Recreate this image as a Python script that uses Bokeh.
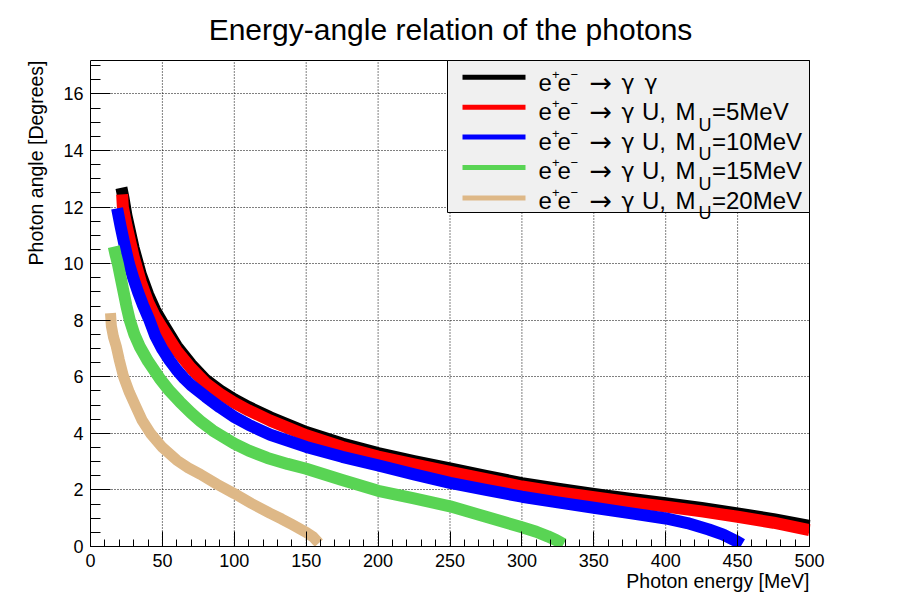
import math
from bokeh.plotting import figure
from bokeh.models import Range1d, SingleIntervalTicker, Label, Title
from bokeh.embed import file_html
from bokeh.resources import INLINE

# ---------------- data ----------------
energy_gg = [21.5, 23.0, 25.0, 30.0, 35.0, 40.0, 45.0, 50.0, 60.0, 70.0, 80.0, 90.0, 100, 110, 125, 150,
             175, 200, 225, 250, 275, 300, 325, 350, 375, 400, 425, 450, 475, 500]
angle_gg = [12.68, 12.3, 11.7, 10.55, 9.62, 8.92, 8.35, 7.92, 7.08, 6.44, 5.9, 5.52, 5.2, 4.93, 4.57, 4.05,
            3.64, 3.30, 3.02, 2.76, 2.50, 2.24, 2.04, 1.86, 1.69, 1.53, 1.36, 1.17, 0.97, 0.73]

energy_u5 = [22.0, 22.5, 25.0, 30.0, 35.0, 40.0, 45.0, 50.0, 60.0, 70.0, 80.0, 90.0, 100, 110, 125, 150,
             175, 200, 225, 250, 275, 300, 325, 350, 375, 400, 425, 450, 475, 500]
angle_u5 = [12.45, 12.0, 11.35, 10.25, 9.35, 8.65, 8.12, 7.72, 6.92, 6.3, 5.78, 5.4, 5.08, 4.81, 4.45, 3.93,
            3.52, 3.18, 2.90, 2.64, 2.38, 2.12, 1.92, 1.74, 1.57, 1.41, 1.24, 1.05, 0.84, 0.58]

energy_u10 = [18.5, 21.0, 23.5, 26.7, 30.0, 33.0, 36.5, 40.6, 45.0, 50.0, 55.0, 60.0, 65.0, 70.0, 80.0, 90.0,
              100, 110, 125, 150, 175, 200, 225, 250, 275, 300, 325, 350, 375, 400, 415, 430, 440, 448, 453]
angle_u10 = [11.95, 11.3, 10.7, 10.0, 9.45, 9.0, 8.53, 8.05, 7.45, 6.97, 6.58, 6.24, 5.95, 5.7, 5.3, 4.92,
             4.58, 4.3, 3.95, 3.52, 3.17, 2.87, 2.55, 2.25, 2.0, 1.76, 1.56, 1.37, 1.18, 0.99, 0.83, 0.6, 0.42, 0.22, 0.07]

energy_u15 = [16.2, 17.5, 19.0, 21.0, 23.0, 25.0, 27.3, 30.5, 34.1, 40.0, 48.0, 55.0, 62.0, 70.0, 76.5, 85.0,
              100, 110, 123, 137, 150, 175, 200, 225, 250, 275, 300, 310, 318, 324, 329]
angle_u15 = [10.6, 10.3, 10.0, 9.5, 9.0, 8.5, 8.0, 7.5, 7.08, 6.55, 5.95, 5.5, 5.12, 4.72, 4.43, 4.1,
             3.64, 3.39, 3.13, 2.92, 2.75, 2.35, 1.97, 1.70, 1.42, 1.05, 0.68, 0.52, 0.36, 0.22, 0.08]

energy_u20 = [13.9, 14.5, 16.0, 17.9, 20.0, 23.0, 27.0, 31.0, 36.0, 42.0, 50.0, 60.0, 68.0, 76.5, 88.0, 100,
              112, 125, 133, 140, 150, 155, 158.8]
angle_u20 = [8.25, 7.8, 7.4, 7.08, 6.6, 6.0, 5.45, 5.0, 4.45, 3.98, 3.5, 3.05, 2.78, 2.55, 2.2, 1.87,
             1.52, 1.17, 0.97, 0.78, 0.5, 0.33, 0.12]

series_colors = ["#000000", "#ff0000", "#0000ff", "#59d454", "#deb887"]
masses = [None, "5", "10", "15", "20"]

title_text = "Energy-angle relation of the photons"
xlabel_text = "Photon energy [MeV]"
ylabel_text = "Photon angle [Degrees]"

x_tick_step = 50
y_tick_step = 2

# ---------------- layout ----------------
XMAX = 500.0
YMAX = 17.18
FONT = "Liberation Sans"
SYM = "DejaVu Sans"

# visual frame in page pixels: left 90, right 809, top 60, bottom 546
FL, FR, FT, FB = 90.0, 809.0, 60.0, 546.0
XSCALE = (FR - FL) / XMAX
YSCALE = (FB - FT) / YMAX
X_END = (810.0 - FL) / XSCALE          # plotting frame reaches page x = 810
Y_END = (FB - 0.0) / YSCALE            # plotting frame reaches the page top


def px2x(px):
    return (px - FL) / XSCALE


def py2y(py):
    return (FB - py) / YSCALE


p = figure(width=892, height=601, output_backend="svg", toolbar_location=None,
           x_range=Range1d(0, X_END), y_range=Range1d(0, Y_END),
           min_border_left=90, min_border_right=892 - 810, min_border_top=0, min_border_bottom=601 - 546)
p.background_fill_color = "white"
p.border_fill_color = "white"
p.outline_line_color = None

p.xaxis.ticker = SingleIntervalTicker(interval=x_tick_step, num_minor_ticks=5)
p.yaxis.ticker = SingleIntervalTicker(interval=y_tick_step, num_minor_ticks=4)
p.xaxis.bounds = (0, XMAX)
p.yaxis.bounds = (0, YMAX)
for ax in (p.xaxis, p.yaxis):
    ax.axis_line_color = "black"
    ax.axis_line_width = 1
    ax.major_tick_line_color = "black"
    ax.minor_tick_line_color = "black"
    ax.major_tick_out = 0
    ax.minor_tick_out = 0
    ax.major_label_text_font = FONT
    ax.major_label_text_font_size = "18px"
    ax.major_label_text_color = "black"
    ax.major_label_standoff = 7
p.xaxis.major_tick_in = 15
p.xaxis.minor_tick_in = 7
p.yaxis.major_tick_in = 20
p.yaxis.minor_tick_in = 10

p.xgrid.visible = False
p.ygrid.bounds = (0, YMAX)
p.ygrid.grid_line_color = "black"
p.ygrid.grid_line_dash = "1 2"
p.ygrid.grid_line_width = 1

# vertical dotted grid lines, only inside the visual frame
grid_x = list(range(x_tick_step, int(XMAX), x_tick_step))
p.segment(x0=grid_x, x1=grid_x, y0=[0] * len(grid_x), y1=[YMAX] * len(grid_x),
          line_color="black", line_dash="1 2", line_width=1)

# ---------------- curves ----------------
curves = [(energy_gg, angle_gg), (energy_u5, angle_u5), (energy_u10, angle_u10),
          (energy_u15, angle_u15), (energy_u20, angle_u20)]
widths = [12, 12, 12, 12, 11]
for (ex, ay), col, w in zip(curves, series_colors, widths):
    p.line(ex, ay, line_color=col, line_width=w, line_join="round", line_cap="butt")

# visual frame
p.quad(left=0, right=XMAX, bottom=0, top=YMAX, fill_color=None, line_color="black", line_width=1)

# ---------------- legend (drawn by hand) ----------------
p.quad(left=px2x(447), right=XMAX, top=YMAX, bottom=py2y(212),
       fill_color="#f0f0f0", line_color="black", line_width=1)

sample_y = [76.7, 106.7, 136.5, 167.0, 197.5]
p.segment(x0=[px2x(462)] * 5, x1=[px2x(525)] * 5, y0=[py2y(v) for v in sample_y],
          y1=[py2y(v) for v in sample_y], line_color=series_colors, line_width=5, line_cap="butt")


def add_text(px, py, text, size, font=FONT, align="left", baseline="alphabetic", angle=0.0):
    p.add_layout(Label(x=px2x(px), y=py2y(py), text=text, text_font=font,
                       text_font_size=f"{size}px", text_color="black", text_align=align,
                       text_baseline=baseline, angle=angle))


for i, m in enumerate(masses):
    base = 81.5 + i * 29.6
    add_text(538, base, "e", 24)
    add_text(551.5, base - 8, "+", 13)
    add_text(557, base, "e", 24)
    add_text(570, base - 8, "\u2212", 13)
    add_text(589, base, "\u2192", 27, font=SYM)
    add_text(621, base, "\u03b3", 22, font=SYM)
    if m is None:
        add_text(644, base, "\u03b3", 22, font=SYM)
    else:
        add_text(641.5, base, "U,", 24)
        add_text(675, base, "M", 24)
        add_text(698, base + 13, "U", 18)
        add_text(711.5, base, "=" + m + "MeV", 24)

# ---------------- titles ----------------
add_text(450, 28.5, title_text, 30, align="center")

p.add_layout(Title(text=ylabel_text, align="right", vertical_align="bottom", standoff=28, offset=60,
                   text_font=FONT, text_font_size="19.5px", text_font_style="normal",
                   text_color="black"), "left")
p.add_layout(Title(text=xlabel_text, align="right", vertical_align="top", standoff=0, offset=1,
                   text_font=FONT, text_font_size="19.5px", text_font_style="normal",
                   text_color="black"), "below")

open("out.html", "w").write(file_html(p, INLINE))
